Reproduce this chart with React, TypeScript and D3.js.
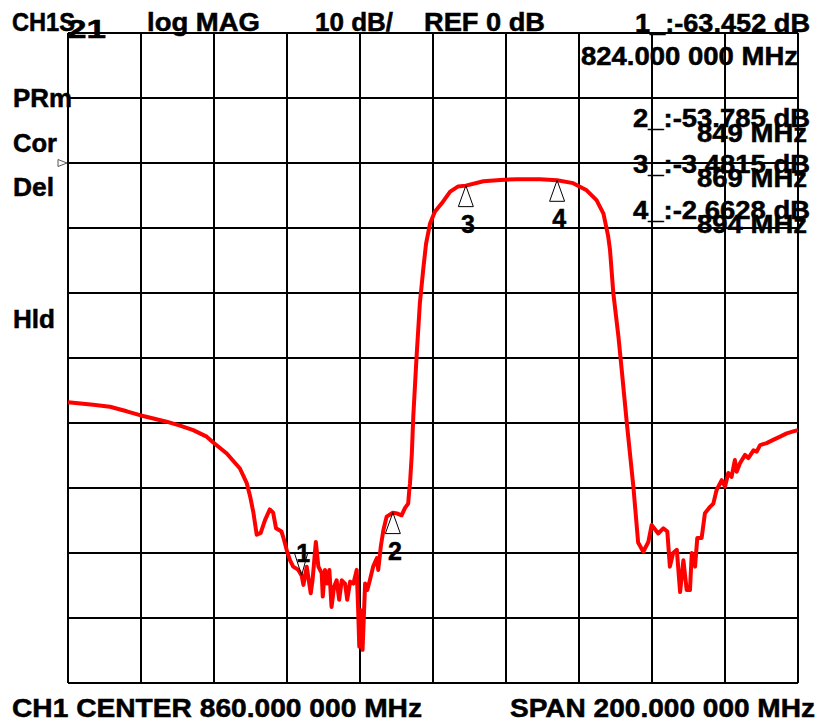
import React from "react";
import * as d3 from "d3";

// Sweep: 760..960 MHz, 10 dB/div, REF 0 dB
const freqMHz = [
  760.0, 766.9, 771.5, 776.1, 779.7, 783.4, 787.0, 790.7, 794.3, 798.0, 799.8, 803.5, 807.1, 809.0, 809.9,
  810.8, 811.7, 812.8, 814.0, 815.3, 816.2, 817.0, 818.5, 819.2, 819.9, 820.8, 821.7, 823.1, 824.0, 824.5,
  825.4, 826.5, 827.0, 827.9, 828.6, 829.5, 829.8, 830.4, 831.0, 831.6, 832.2, 832.9, 833.6, 834.3, 835.0,
  835.9, 836.5, 837.3, 838.2, 839.1, 839.5, 839.8, 840.2, 840.7, 841.4, 842.0, 842.7, 843.6, 844.6, 845.0,
  845.7, 846.4, 847.3, 849.0, 850.1, 851.4, 852.3, 853.2, 853.5, 853.7, 854.2, 854.6, 855.5, 856.4, 857.3,
  858.1, 859.2, 860.5, 862.4, 864.7, 866.9, 869.0, 873.8, 878.4, 882.9, 889.3, 894.0, 898.4, 902.1, 904.8,
  906.7, 908.0, 908.5, 909.4, 910.8, 911.7, 913.1, 914.9, 916.2, 917.6, 919.0, 919.9, 921.7, 923.1, 924.2,
  924.9, 925.8, 926.8, 927.7, 928.6, 929.5, 930.4, 930.9, 931.8, 932.4, 933.6, 934.5, 935.9, 936.8, 937.7,
  939.1, 940.0, 940.9, 941.8, 942.7, 943.2, 944.1, 945.5, 946.4, 947.8, 948.7, 949.6, 951.4, 953.2, 955.1,
  956.9, 958.7, 960.0,
];
const magDB = [
  -36.8, -37.2, -37.5, -38.2, -38.8, -39.3, -39.8, -40.4, -41.1, -42.1, -43.0, -44.7, -47.0, -49.3, -51.3,
  -53.8, -57.2, -56.9, -54.9, -53.3, -53.8, -56.2, -56.7, -58.0, -59.5, -61.1, -62.1, -62.6, -63.45, -64.9,
  -62.1, -66.2, -64.2, -58.3, -62.1, -63.1, -66.7, -62.6, -64.7, -62.6, -68.3, -65.2, -64.2, -67.2, -64.2,
  -64.7, -67.2, -64.4, -64.7, -62.6, -68.8, -74.4, -68.8, -74.9, -64.7, -65.7, -64.2, -62.1, -60.8, -62.6,
  -59.0, -56.5, -54.4, -53.8, -53.9, -54.2, -53.1, -52.4, -50.3, -49.3, -44.7, -39.0, -29.8, -21.6, -16.5,
  -12.4, -9.3, -7.5, -6.2, -4.4, -3.6, -3.48, -2.8, -2.6, -2.5, -2.5, -2.66, -3.1, -4.2, -5.7,
  -7.8, -11.3, -13.4, -20.0, -26.7, -31.8, -40.0, -49.8, -58.4, -59.8, -58.3, -55.7, -57.0, -56.2, -56.7,
  -62.1, -60.0, -59.5, -66.0, -61.1, -65.7, -65.7, -60.0, -62.1, -57.7, -57.7, -53.9, -52.9, -52.4, -50.3,
  -48.8, -49.8, -47.7, -48.3, -45.7, -47.5, -46.2, -44.9, -45.4, -44.2, -44.4, -43.4, -43.1, -42.6, -42.1,
  -41.6, -41.3, -41.1,
];

const markerFreq = [824, 849, 869, 894];
const markerDB = [-63.452, -53.785, -3.4815, -2.6628];
const markerNames = ["1", "2", "3", "4"];

const xTicks = d3.range(760, 961, 20);
const yTicks = d3.range(-80, 21, 10);

const headerTexts = ["CH1S", "log MAG", "10 dB/", "REF 0 dB"];
const readoutValues = ["1_:-63.452 dB", "2_:-53.785 dB", "3_:-3.4815 dB", "4_:-2.6628 dB"];
const readoutFreqs = ["824.000 000 MHz", "849 MHz", "869 MHz", "894 MHz"];
const sideLabels = ["PRm", "Cor", "Del", "Hld"];
const footerTexts = ["CH1 CENTER  860.000 000 MHz", "SPAN  200.000 000 MHz"];

const FONT = "'Liberation Sans', Arial, Helvetica, sans-serif";

export default function App() {
  const W = 827;
  const H = 722;
  const x = d3.scaleLinear().domain([760, 960]).range([68, 798]);
  const y = d3.scaleLinear().domain([20, -80]).range([33, 683]);

  const line = d3
    .line<number>()
    .x((_, i) => x(freqMHz[i]))
    .y((d) => y(d))
    .curve(d3.curveLinear);

  const headerPos = [
    { x: 12, y: 31, len: 63 },
    { x: 147, y: 31, len: 113 },
    { x: 315, y: 31, len: 78 },
    { x: 424, y: 31, len: 121 },
  ];
  const readoutPos = [
    { vy: 32, vx: 635, vlen: 175, fy: 65, fx: 581, flen: 217 },
    { vy: 127, vx: 633, vlen: 177, fy: 142, fx: 697, flen: 110 },
    { vy: 173, vx: 633, vlen: 177, fy: 187, fx: 697, flen: 110 },
    { vy: 219, vx: 633, vlen: 177, fy: 233, fx: 697, flen: 110 },
  ];
  const sidePos = [
    { y: 107, len: 59 },
    { y: 152, len: 44 },
    { y: 196, len: 41 },
    { y: 328, len: 42 },
  ];
  const textStroke = { stroke: "#000", strokeWidth: 0.5 };

  return (
    <svg
      width={W}
      height={H}
      viewBox={`0 0 ${W} ${H}`}
      style={{ position: "absolute", left: 0, top: 0, background: "#fff" }}
    >
      <rect x={0} y={0} width={W} height={H} fill="#fff" />
      {/* grid */}
      <g stroke="#000" strokeWidth={2} shapeRendering="crispEdges">
        {xTicks.map((t) => (
          <line key={"vx" + t} x1={x(t)} x2={x(t)} y1={y(20)} y2={y(-80)} />
        ))}
        {yTicks.map((t) => (
          <line key={"hy" + t} x1={x(760)} x2={x(960)} y1={y(t)} y2={y(t)} />
        ))}
      </g>
      {/* reference position marker */}
      <path
        d={`M${x(760) - 1},${y(0)} L${x(760) - 10},${y(0) - 3.5} L${x(760) - 10},${y(0) + 3.5} Z`}
        fill="#fff"
        stroke="#555"
        strokeWidth={1}
      />
      {/* trace */}
      <path d={line(magDB) || ""} fill="none" stroke="#ff0000" strokeWidth={4} strokeLinejoin="round" />
      {/* markers */}
      {markerFreq.map((f, i) => {
        const mx = x(f);
        const my = y(markerDB[i]);
        if (i === 0) {
          return (
            <g key={"m" + i}>
              <path
                d={`M${mx},${my} L${mx - 7},${my - 22} L${mx + 6},${my - 22} Z`}
                fill="none"
                stroke="#000"
                strokeWidth={1}
              />
              <text
                x={mx + 1.5}
                y={my - 13}
                textAnchor="middle"
                fontFamily={FONT}
                fontWeight="bold"
                fontSize={25}
                fill="#000"
                {...textStroke}
              >
                {markerNames[i]}
              </text>
            </g>
          );
        }
        return (
          <g key={"m" + i}>
            <path
              d={`M${mx},${my} L${mx - 7.5},${my + 21} L${mx + 7.5},${my + 21} Z`}
              fill="none"
              stroke="#000"
              strokeWidth={1}
            />
            <text
              x={mx + 2}
              y={my + 47}
              textAnchor="middle"
              fontFamily={FONT}
              fontWeight="bold"
              fontSize={25}
              fill="#000"
              {...textStroke}
            >
              {markerNames[i]}
            </text>
          </g>
        );
      })}
      {/* header */}
      <g fontFamily={FONT} fontWeight="bold" fill="#000" {...textStroke}>
        {headerTexts.map((t, i) => (
          <text
            key={"h" + i}
            x={headerPos[i].x}
            y={headerPos[i].y}
            fontSize={25}
            textLength={headerPos[i].len}
            lengthAdjust="spacingAndGlyphs"
          >
            {t}
          </text>
        ))}
        <text x={67} y={38} fontSize={25} textLength={39} lengthAdjust="spacingAndGlyphs">
          21
        </text>
        {readoutValues.map((t, i) => (
          <text
            key={"rv" + i}
            x={readoutPos[i].vx}
            y={readoutPos[i].vy}
            fontSize={25}
            textLength={readoutPos[i].vlen}
            lengthAdjust="spacingAndGlyphs"
          >
            {t}
          </text>
        ))}
        {readoutFreqs.map((t, i) => (
          <text
            key={"rf" + i}
            x={readoutPos[i].fx}
            y={readoutPos[i].fy}
            fontSize={25}
            textLength={readoutPos[i].flen}
            lengthAdjust="spacingAndGlyphs"
          >
            {t}
          </text>
        ))}
        {sideLabels.map((t, i) => (
          <text
            key={"s" + i}
            x={13}
            y={sidePos[i].y}
            fontSize={25}
            textLength={sidePos[i].len}
            lengthAdjust="spacingAndGlyphs"
          >
            {t}
          </text>
        ))}
        <text x={12} y={717} fontSize={25} textLength={410} lengthAdjust="spacingAndGlyphs">
          {footerTexts[0]}
        </text>
        <text x={510} y={717} fontSize={25} textLength={305} lengthAdjust="spacingAndGlyphs">
          {footerTexts[1]}
        </text>
      </g>
    </svg>
  );
}
